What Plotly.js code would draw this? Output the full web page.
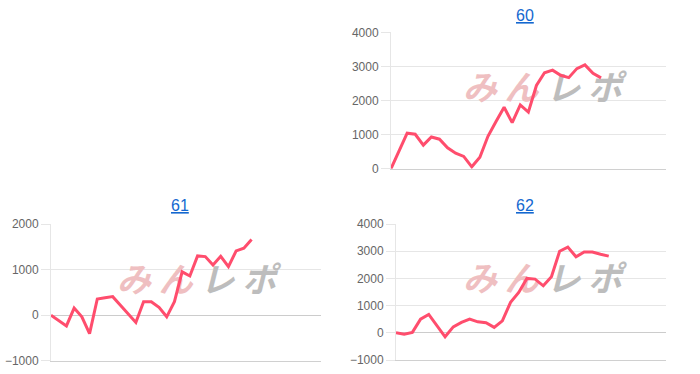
<!DOCTYPE html>
<html>
<head>
<meta charset="utf-8">
<script src="https://cdn.plot.ly/plotly-3.0.1.min.js"></script>
<style>html,body{margin:0;padding:0;background:#fff;}#chart{width:700px;height:374px;}</style>
</head>
<body>
<div id="chart"></div>
<script>
// ---- data ----
const games = [1,2,3,4,5,6,7,8,9,10,11,12,13,14,15,16,17,18,19,20,21,22,23,24,25,26,27];
const titles = ["60", "61", "62"];
const s60 = [0, 530, 1040, 1010, 690, 930, 865, 615, 455, 360, 55, 335, 950, 1385, 1800, 1350, 1870, 1660, 2440, 2815, 2890, 2740, 2670, 2935, 3045, 2795, 2665];
const s61 = [0, -110, -236, 155, -37, -406, 354, 380, 406, 216, 27, -160, 295, 295, 170, -37, 295, 950, 860, 1300, 1285, 1100, 1291, 1062, 1410, 1470, 1660];
const s62 = [0, -48, 15, 504, 676, 270, -147, 220, 382, 504, 404, 368, 199, 441, 1118, 1485, 2000, 1974, 1728, 2059, 3000, 3150, 2794, 2970, 2970, 2890, 2820];
const yTicks60 = [0, 1000, 2000, 3000, 4000];
const yTicks61 = [-1000, 0, 1000, 2000];
const yTicks62 = [-1000, 0, 1000, 2000, 3000, 4000];
const watermark = ["み", "ん", "レ", "ポ"];

const W = 700, H = 374;
const lineColor = "#ff4d6d";
const tickFont = {family: "Liberation Sans, Arial, sans-serif", size: 12, color: "#666"};

// plot boxes in pixels: left, right, top, bottom; axis ranges
const boxes = [
  {l: 391, r: 665.7, t: 32.3, b: 168.7, xr: [1, 35], yr: [0, 4000], tv: yTicks60, y: s60, mark: [459, 626, 92]},
  {l: 51, r: 321, t: 224, b: 360.7, xr: [1, 36], yr: [-1000, 2000], tv: yTicks61, y: s61, mark: [113, 280, 283]},
  {l: 396, r: 666, t: 224, b: 360, xr: [1, 34], yr: [-1000, 4000], tv: yTicks62, y: s62, mark: [459, 626, 282]}
];

const data = [];
const layout = {
  width: W, height: H, margin: {l: 0, r: 0, t: 0, b: 0},
  paper_bgcolor: "#fff", plot_bgcolor: "#fff", showlegend: false, annotations: []
};

boxes.forEach((bx, k) => {
  const sx = k === 0 ? "" : String(k + 1);
  const xid = "x" + sx, yid = "y" + sx;
  // watermark (drawn first so the line sits on top), positioned via axis-domain fractions
  const step = (bx.mark[1] - bx.mark[0]) / 4;
  const fx = px => bx.xr[0] + (px - bx.l) / (bx.r - bx.l) * (bx.xr[1] - bx.xr[0]);
  const fy = py => bx.yr[0] + (bx.b - py) / (bx.b - bx.t) * (bx.yr[1] - bx.yr[0]);
  ["#efbfc1", "#bdbdbd"].forEach((c, g) => {
    const chars = watermark.slice(g * 2, g * 2 + 2);
    data.push({type: "scatter", mode: "text", xaxis: xid, yaxis: yid, hoverinfo: "skip", cliponaxis: false,
      x: chars.map((_, i) => fx(bx.mark[0] + step * (g * 2 + i + 0.5))),
      y: chars.map(() => fy(bx.mark[2])),
      text: chars.map(ch => "<b><i>" + ch + "</i></b>"), textposition: "middle center",
      textfont: {family: "Noto Sans CJK JP", size: 34, weight: "bold", color: c}});
  });
  data.push({x: games, y: bx.y, xaxis: xid, yaxis: yid, type: "scatter", mode: "lines",
    line: {color: lineColor, width: 3}, hoverinfo: "skip"});
  layout["xaxis" + sx] = {domain: [bx.l / W, bx.r / W], range: bx.xr, anchor: yid, showgrid: false, zeroline: false,
    showticklabels: false, ticks: "", showline: true, linecolor: "#d0d0d0", linewidth: 1, fixedrange: true};
  layout["yaxis" + sx] = {domain: [1 - bx.b / H, 1 - bx.t / H], range: bx.yr, anchor: xid, tickvals: bx.tv,
    showgrid: true, gridcolor: "#e6e6e6", gridwidth: 1, zeroline: true, zerolinecolor: "#cccccc", zerolinewidth: 1,
    showline: true, linecolor: "#e6e6e6", linewidth: 1,
    ticks: "outside", ticklen: 9, tickcolor: "#e6e6e6", tickfont: tickFont, fixedrange: true};
});

function title(text, cx, cy) {
  layout.annotations.push({text: text, xref: "paper", yref: "paper", x: cx / W, y: 1 - cy / H,
    xanchor: "center", yanchor: "middle", showarrow: false,
    font: {family: "Liberation Sans, Arial, sans-serif", size: 16, color: "#1468d0", lineposition: "under"}});
}
title(titles[0], 524.5, 15);
title(titles[1], 179.5, 205);
title(titles[2], 524.5, 205);

Plotly.newPlot("chart", data, layout, {displayModeBar: false, staticPlot: true});
</script>
</body>
</html>
